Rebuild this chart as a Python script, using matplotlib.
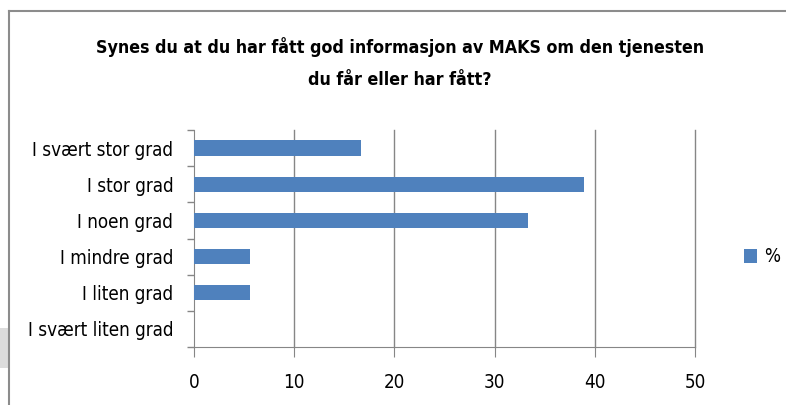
import matplotlib
matplotlib.use("Agg")
import matplotlib.pyplot as plt
from matplotlib.patches import Rectangle
from matplotlib.lines import Line2D

categories = ["I svært stor grad", "I stor grad", "I noen grad",
              "I mindre grad", "I liten grad", "I svært liten grad"]
values = [16.7, 38.9, 33.3, 5.6, 5.6, 0.0]
xticks = [0, 10, 20, 30, 40, 50]
series_name = "%"
title = "Synes du at du har fått god informasjon av MAKS om den tjenesten\ndu får eller har fått?"

plt.rcParams['font.family'] = ['DejaVu Sans']
plt.rcParams['font.stretch'] = 'condensed'

W, H = 786, 405
fig = plt.figure(figsize=(W/100, H/100), dpi=100)
fig.patch.set_facecolor('white')

# outer frame lines (chart border)
fig.add_artist(Line2D([9/W, 1], [1-11/H, 1-11/H], color='#8c8c8c', lw=1.5, transform=fig.transFigure))
fig.add_artist(Line2D([9/W, 9/W], [0, 1-11/H], color='#8c8c8c', lw=1.5, transform=fig.transFigure))
fig.add_artist(Rectangle((0, 1-368/H), 8/W, 40/H, color='#dcdcdc', transform=fig.transFigure, lw=0))

ax = fig.add_axes([194/W, 1-347/H, (695-194)/W, (347-130)/H])
y = list(range(len(categories)))
bars = ax.barh(y, values, height=0.42, color='#4F81BD', label=series_name, zorder=3)
ax.set_ylim(len(categories)-0.5, -0.5)
ax.set_xlim(0, 50)
ax.set_xticks(xticks)
ax.set_xticklabels([str(t) for t in xticks], fontsize=13.5)
ax.set_yticks(y)
ax.set_yticklabels(categories, fontsize=13.5)
# tick marks at category boundaries
ax.set_yticks([i - 0.5 for i in range(len(categories)+1)], minor=True)
ax.tick_params(axis='y', which='major', length=0, pad=15)
ax.tick_params(axis='y', which='minor', length=5, color='#868686', width=1)
ax.tick_params(axis='x', which='major', length=7, color='#868686', pad=12)
for t in xticks[1:]:
    ax.axvline(t, color='#868686', lw=1, zorder=0, clip_on=False)
for s in ['top', 'right']:
    ax.spines[s].set_visible(False)
for s in ['left', 'bottom']:
    ax.spines[s].set_color('#868686')

fig.text(400/W, 1-63/H, title, ha='center', va='center', fontsize=12.8,
         fontweight='bold', linespacing=1.95)

leg = fig.legend(handles=[bars], labels=[series_name], loc='center left',
                 bbox_to_anchor=(727/W, 1-257/H), frameon=False, fontsize=13.5,
                 handlelength=0.7, handleheight=0.7, handletextpad=0.4)

fig.savefig("out.png", dpi=100)
